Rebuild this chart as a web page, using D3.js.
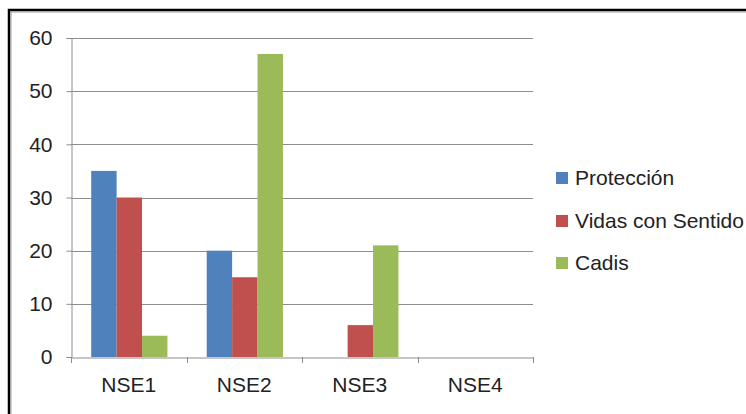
<!DOCTYPE html>
<html><head><meta charset="utf-8">
<script src="https://cdn.jsdelivr.net/npm/d3@7"></script>
<style>html,body{margin:0;padding:0;background:#fff;}svg{display:block;}</style>
</head><body>
<script>
const categories = ["NSE1", "NSE2", "NSE3", "NSE4"];
const seriesNames = ["Protección", "Vidas con Sentido", "Cadis"];
const proteccion = [35, 20, 0, 0];
const vidas = [30, 15, 6, 0];
const cadis = [4, 57, 21, 0];
const yTicks = [0, 10, 20, 30, 40, 50, 60];
const colors = ["#4F81BD", "#C0504D", "#9BBB59"];
const seriesValues = [proteccion, vidas, cadis];

(function () {
const W = 746, H = 414;
const svg = d3.select("body").append("svg").attr("width", W).attr("height", H);
const font = "'Liberation Sans', Arial, sans-serif";

// frame
svg.append("rect").attr("x", 9).attr("y", 10).attr("width", W + 10).attr("height", H + 10)
  .attr("fill", "none").attr("stroke", "#000").attr("stroke-width", 2.5);
svg.append("rect").attr("x", 11).attr("y", 12).attr("width", W + 10).attr("height", H + 10)
  .attr("fill", "none").attr("stroke", "#999").attr("stroke-width", 1);

const pl = 71, pr = 533, pt = 38, pb = 357;
const x = d3.scaleBand().domain(categories).range([pl, pr]).padding(0);
const y = d3.scaleLinear().domain([0, 60]).range([pb, pt]);
const bw = x.bandwidth();
const xs = d3.scaleBand().domain(seriesNames).range([bw * 0.175, bw * 0.835]).padding(0);

// gridlines
svg.append("g").selectAll("line").data(yTicks.filter(d => d > 0)).join("line")
  .attr("x1", pl).attr("x2", pr)
  .attr("y1", d => Math.round(y(d)) + 0.5).attr("y2", d => Math.round(y(d)) + 0.5)
  .attr("stroke", "#8c8c8c").attr("stroke-width", 1);

// bars
categories.forEach((c, i) => {
  seriesNames.forEach((s, j) => {
    const v = seriesValues[j][i];
    if (v <= 0) return;
    svg.append("rect")
      .attr("x", x(c) + xs(s)).attr("width", xs.bandwidth())
      .attr("y", y(v)).attr("height", y(0) - y(v))
      .attr("fill", colors[j]);
  });
});

// y axis
const yAxis = d3.axisLeft(y).tickValues(yTicks).tickSize(5).tickPadding(14);
const gy = svg.append("g").attr("transform", `translate(${pl + 0.5},0)`).call(yAxis);
gy.select(".domain").attr("stroke", "#8c8c8c");
gy.selectAll(".tick line").attr("stroke", "#8c8c8c");
gy.selectAll("text").attr("font-family", font).attr("font-size", 21).attr("fill", "#222");

// x axis
const xAxis = d3.axisBottom(x).tickSize(0).tickPadding(20);
const gx = svg.append("g").attr("transform", `translate(0,${pb + 0.5})`).call(xAxis);
gx.select(".domain").attr("stroke", "#8c8c8c");
gx.selectAll("text").attr("font-family", font).attr("font-size", 21).attr("fill", "#222");
const bounds = categories.map(c => x(c)).concat([pr]);
svg.append("g").selectAll("line").data(bounds).join("line")
  .attr("x1", d => Math.round(d) + 0.5).attr("x2", d => Math.round(d) + 0.5)
  .attr("y1", pb).attr("y2", pb + 6)
  .attr("stroke", "#8c8c8c");

// legend
const lg = svg.append("g").attr("transform", "translate(556,0)");
const legendY = [178, 221, 263];
seriesNames.forEach((s, j) => {
  lg.append("rect").attr("x", 0).attr("y", legendY[j] - 6).attr("width", 12).attr("height", 12)
    .attr("fill", colors[j]);
  lg.append("text").attr("x", 19).attr("y", legendY[j]).attr("dy", "0.35em")
    .attr("font-family", font).attr("font-size", 21).attr("fill", "#222").text(s);
});
})();
</script>
</body></html>
